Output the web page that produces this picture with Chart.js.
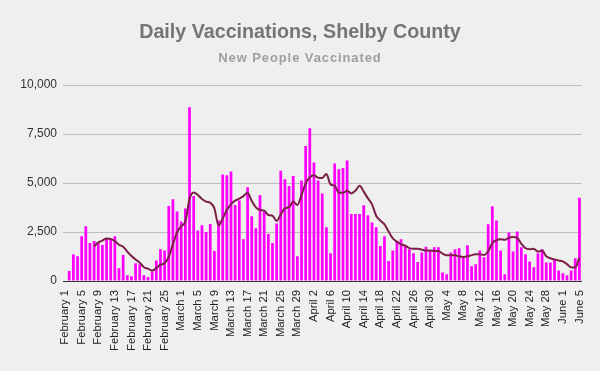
<!DOCTYPE html>
<html lang="en">
<head>
    <meta charset="UTF-8">
    <title>Daily Vaccinations, Shelby County</title>
    <script src="https://cdn.jsdelivr.net/npm/chart.js"></script>
    <style>
        html, body {
            margin: 0;
            padding: 0;
            background-color: #efefef;
        }
        .wrap {
            position: relative;
            width: 600px;
            height: 371px;
            font-family: 'Liberation Sans', Arial, sans-serif;
        }
        .title {
            position: absolute;
            left: 0;
            width: 600px;
            text-align: center;
            font-weight: bold;
            white-space: nowrap;
        }
        #mainTitle { top: 21.6px; font-size: 19.7px; line-height: 19.7px; color: #757575; }
        #subTitle { top: 51.3px; font-size: 13px; line-height: 13px; color: #9e9e9e; letter-spacing: 0.9px; }
        canvas { position: absolute; left: 0; top: 0; }
    </style>
</head>
<body>
    <div class="wrap">
        <canvas id="vaxChart" width="600" height="371"></canvas>
        <div class="title" id="mainTitle">Daily Vaccinations, Shelby County</div>
        <div class="title" id="subTitle">New People Vaccinated</div>
    </div>

    <script>
        // months shown on the axis and how many days of each are in the data
        const monthNames = ['February', 'March', 'April', 'May', 'June'];
        const monthDays = [28, 31, 30, 31, 5];

        // new people vaccinated per day
        const febNew = [0, 510, 1360, 1260, 2280, 2790, 1940, 2040, 1940, 1840, 2140, 2140, 2280, 650,
            1330, 290, 240, 900, 850, 290, 200, 480, 1050, 1615, 1560, 3825, 4165, 3550];
        const marNew = [3040, 3700, 8860, 4335, 2580, 2840, 2500, 2910, 1530, 3090, 5440, 5390, 5590, 3880,
            4110, 2125, 4780, 3300, 2690, 4370, 3540, 2400, 1940, 2940, 5630, 5190, 4850, 5360, 1260, 5130, 6890];
        const aprNew = [7790, 6050, 5130, 4470, 2740, 1410, 6000, 5700, 5760, 6150, 3420, 3420, 3420, 3860,
            3350, 2990, 2740, 1790, 2280, 1020, 1560, 2020, 2130, 1820, 1620, 1410, 970, 1460, 1750, 1530];
        const mayNew = [1720, 1720, 440, 340, 1460, 1620, 1670, 1210, 1820, 750, 850, 1560, 1210, 2890,
            3810, 3090, 1560, 340, 2480, 1510, 2530, 1720, 1360, 1000, 700, 1410, 1620, 950, 950, 1110, 540];
        const junNew = [390, 290, 540, 1160, 4250];

        // 7-day average line
        const febAvg = [null, null, null, null, null, null, null, 1760, 1970, 2060, 2170, 2140, 2040, 1850,
            1750, 1500, 1275, 1100, 935, 700, 630, 530, 660, 830, 900, 1240, 1880, 2480];
        const marAvg = [2800, 3030, 4180, 4510, 4390, 4180, 4050, 3990, 3710, 2830, 3190, 3620, 3910, 4100,
            4200, 4330, 4500, 4080, 3760, 3620, 3590, 3370, 3330, 3060, 3400, 3710, 3770, 4050, 3880, 4390, 4980];
        const aprAvg = [5290, 5390, 5270, 5260, 5460, 4930, 4860, 4510, 4500, 4610, 4470, 4610, 4860, 4560,
            4220, 3910, 3330, 3080, 2890, 2520, 2180, 2010, 1870, 1800, 1680, 1650, 1650, 1600, 1550, 1550];
        const mayAvg = [1530, 1530, 1400, 1310, 1310, 1310, 1260, 1230, 1260, 1320, 1360, 1360, 1330, 1520,
            1930, 2080, 2130, 2100, 2210, 2250, 2200, 1900, 1670, 1620, 1640, 1500, 1550, 1260, 1160, 1100, 1050];
        const junAvg = [1000, 860, 700, 690, 1190];

        const yTicks = [0, 2500, 5000, 7500, 10000];

        const labels = [];
        monthNames.forEach((m, i) => {
            for (let d = 1; d <= monthDays[i]; d++) labels.push(m + ' ' + d);
        });
        const newPeople = febNew.concat(marNew, aprNew, mayNew, junNew);
        const weekAvg = febAvg.concat(marAvg, aprAvg, mayAvg, junAvg);

        const tickFont = { family: "'Liberation Sans', Arial, sans-serif", size: 12 };

        new Chart(document.getElementById('vaxChart'), {
            data: {
                labels: labels,
                datasets: [{
                    type: 'line',
                    data: weekAvg,
                    borderColor: '#7b1f47',
                    borderWidth: 2,
                    pointRadius: 0,
                    cubicInterpolationMode: 'monotone',
                    spanGaps: false,
                    order: 0
                }, {
                    type: 'bar',
                    data: newPeople,
                    backgroundColor: '#ff00ff',
                    barPercentage: 0.82,
                    categoryPercentage: 0.8,
                    order: 1
                }]
            },
            options: {
                responsive: false,
                devicePixelRatio: 1,
                animation: false,
                layout: { padding: { left: 0, right: 18.5, top: 85, bottom: 0 } },
                plugins: {
                    legend: { display: false },
                    tooltip: { enabled: false }
                },
                scales: {
                    x: {
                        grid: { display: false },
                        border: { color: '#333333', width: 1 },
                        ticks: {
                            autoSkip: false,
                            minRotation: 90,
                            maxRotation: 90,
                            padding: 1,
                            color: '#222222',
                            font: { family: tickFont.family, size: 11.3 },
                            callback: function (value, index) {
                                return index % 4 === 0 ? this.getLabelForValue(value) : '';
                            }
                        },
                        afterFit: (scale) => { scale.height = 90; }
                    },
                    y: {
                        min: 0,
                        max: 10000,
                        afterBuildTicks: (scale) => { scale.ticks = yTicks.map(v => ({ value: v })); },
                        grid: { color: '#bdbdbd', drawTicks: false },
                        border: { display: false },
                        ticks: {
                            padding: 6,
                            color: '#333333',
                            font: tickFont,
                            callback: (v) => v.toLocaleString('en-US')
                        },
                        afterFit: (scale) => { scale.width = 63; }
                    }
                }
            }
        });
    </script>
</body>
</html>
